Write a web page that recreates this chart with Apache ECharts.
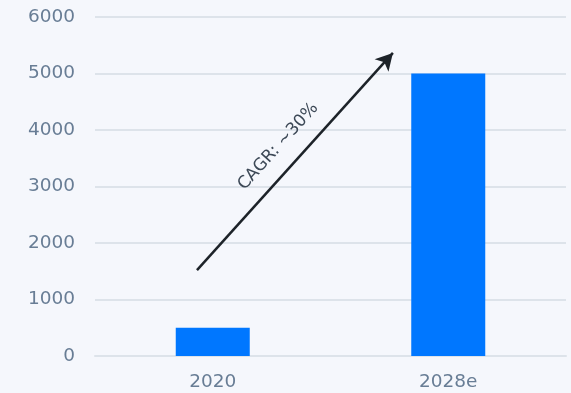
<!DOCTYPE html>
<html>
<head>
<meta charset="utf-8">
<script src="https://cdn.jsdelivr.net/npm/echarts@6/dist/echarts.min.js"></script>
<style>
  html, body { margin: 0; padding: 0; background: #f5f7fc; }
  #chart { width: 571px; height: 393px; }
</style>
</head>
<body>
<div id="chart"></div>
<script>
// chart data
var years = ["2020", "2028e"];
var marketSize = [500, 5000];
// CAGR arrow, in axis units: [category position, value]
var arrowStart = [-0.067, 1520];
var arrowEnd = [0.765, 5365];
var arrowText = "CAGR: ~30%";

var chart = echarts.init(document.getElementById("chart"));

var option = {
    backgroundColor: "#f5f7fc",
    animation: false,
    grid: { left: 95, right: 5, top: 17, bottom: 37 },
    xAxis: [{
        type: "category",
        data: years,
        axisLine: { lineStyle: { color: "#dde3ea", width: 2 } },
        axisTick: { show: false },
        axisLabel: { color: "#687d95", fontSize: 18.5, fontFamily: "DejaVu Sans", margin: 17 }
    }, {
        type: "value",
        min: -0.5,
        max: 1.5,
        show: false
    }],
    yAxis: {
        type: "value",
        min: 0,
        max: 6000,
        interval: 1000,
        axisLine: { show: false },
        axisTick: { show: false },
        axisLabel: {
            color: "#687d95", fontSize: 18.5, fontFamily: "DejaVu Sans", margin: 20,
            formatter: function (v) { return String(v); }
        },
        splitLine: { lineStyle: { color: "#dde3ea", width: 2 } }
    },
    series: [{
        type: "bar",
        data: marketSize,
        barWidth: 74,
        itemStyle: { color: "#0077ff" }
    }, {
        type: "line",
        xAxisIndex: 1,
        data: [],
        markLine: {
            silent: true,
            symbol: ["none", "arrow"],
            symbolSize: [14, 17],
            lineStyle: { color: "#1d2329", width: 2.5, type: "solid" },
            label: {
                show: true,
                position: "middle",
                formatter: arrowText,
                color: "#3c4856",
                fontSize: 17,
                fontFamily: "DejaVu Sans",
                distance: 14
            },
            data: [[{ coord: arrowStart }, { coord: arrowEnd }]]
        }
    }]
};

chart.setOption(option);
</script>
</body>
</html>
